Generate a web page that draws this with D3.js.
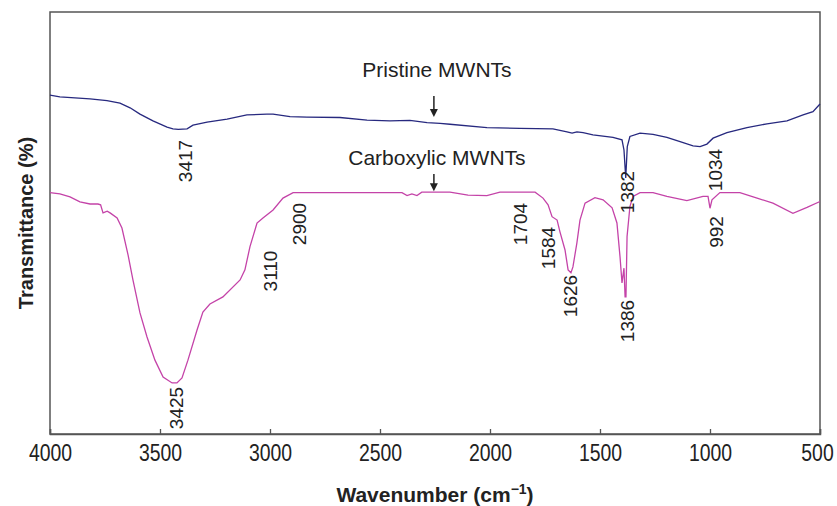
<!DOCTYPE html>
<html>
<head>
<meta charset="utf-8">
<script src="https://cdn.jsdelivr.net/npm/d3@7"></script>
<style>
  body { margin: 0; background: #fff; }
  svg { display: block; }
  text { font-family: "Liberation Sans", Arial, sans-serif; fill: #222; }
</style>
</head>
<body>
<svg id="chart" width="837" height="506"></svg>
<script>
// wavenumber (cm-1) and transmittance (arb. %)
const pristineWn = [4000, 3955, 3818, 3741, 3682, 3636, 3591, 3532, 3468, 3441, 3417, 3377, 3350, 3286, 3195, 3105, 3014, 2986, 2909, 2832, 2682, 2559, 2455, 2364, 2286, 2227, 2182, 2014, 1864, 1714, 1650, 1627, 1605, 1577, 1532, 1441, 1400, 1391, 1383, 1376, 1364, 1318, 1259, 1196, 1136, 1077, 1045, 1014, 986, 923, 832, 741, 650, 577, 532, 500];
const pristineT  = [80.3, 79.9, 79.4, 79.0, 78.4, 77.3, 75.8, 74.2, 72.7, 72.3, 72.2, 72.3, 73.2, 73.9, 74.6, 75.6, 75.8, 75.8, 75.2, 75.1, 75.0, 74.4, 74.2, 74.3, 73.8, 73.6, 73.4, 72.6, 72.4, 72.3, 71.6, 71.3, 71.6, 71.4, 70.9, 70.3, 69.7, 67.3, 60.7, 68.1, 70.5, 71.3, 71.0, 70.3, 69.3, 68.3, 68.1, 68.7, 70.1, 71.4, 72.6, 73.5, 74.2, 75.6, 76.4, 78.2];

const carboxWn = [4000, 3955, 3909, 3864, 3818, 3782, 3770, 3759, 3740, 3727, 3695, 3673, 3645, 3623, 3591, 3559, 3523, 3486, 3445, 3423, 3400, 3373, 3332, 3305, 3273, 3214, 3136, 3114, 3091, 3059, 3032, 2986, 2941, 2895, 2682, 2400, 2377, 2355, 2332, 2310, 2182, 2100, 2014, 1955, 1795, 1759, 1736, 1718, 1695, 1682, 1659, 1645, 1632, 1623, 1605, 1591, 1568, 1523, 1486, 1445, 1423, 1409, 1400, 1391, 1386, 1382, 1377, 1364, 1350, 1318, 1259, 1196, 1105, 1032, 1009, 1000, 991, 955, 864, 786, 714, 623, 559, 500];
const carboxT  = [57.2, 56.9, 56.2, 55.0, 54.5, 54.5, 54.3, 52.4, 52.8, 52.4, 51.2, 48.8, 42.4, 36.5, 28.7, 23.0, 17.5, 13.5, 12.1, 12.1, 13.3, 17.5, 24.6, 28.9, 30.8, 32.5, 36.5, 38.9, 44.4, 50.0, 51.2, 53.1, 55.9, 57.2, 57.2, 57.2, 56.5, 56.9, 56.5, 57.3, 57.3, 56.6, 56.5, 57.3, 57.3, 55.9, 54.3, 51.5, 50.7, 47.9, 43.6, 38.9, 38.2, 39.6, 45.3, 50.7, 54.7, 56.0, 55.5, 53.6, 50.0, 42.0, 35.8, 39.3, 32.5, 32.5, 46.8, 53.9, 56.3, 57.2, 57.2, 56.3, 55.3, 56.3, 56.3, 53.5, 55.5, 57.2, 57.2, 55.9, 54.7, 52.3, 53.7, 55.1];

const seriesNames = ["Pristine MWNTs", "Carboxylic MWNTs"];
const arrowWn = 2255;
const xTicks = [4000, 3500, 3000, 2500, 2000, 1500, 1000, 500];
const pristinePeaks = ["3417", "1382", "1034"];
const carboxPeaks = ["3425", "3110", "2900", "1704", "1584", "1626", "1386", "992"];

// layout (pixels)
const peakPos = {
  "3417": [185, 161], "1382": [627, 192], "1034": [715, 170],
  "3425": [176, 408], "3110": [270, 271], "2900": [299, 224], "1704": [520, 224],
  "1584": [548, 248], "1626": [570, 296], "1386": [627, 321], "992": [716, 232]
};
const labelBase = [77, 165];
const arrowTop = [96, 174];
const arrowGap = [6, 1];

const svg = d3.select("#chart");
const margin = {left: 50, right: 17, top: 12, bottom: 72};
const W = 837, H = 506;
const x = d3.scaleLinear().domain([4000, 500]).range([margin.left, W - margin.right]);
const y = d3.scaleLinear().domain([0, 100]).range([H - margin.bottom, margin.top]);

const colors = ["#27297f", "#c443a8"];
const narrow = '"Liberation Sans Narrow", "Arial Narrow", "Liberation Sans", sans-serif';

// frame
svg.append("rect")
  .attr("x", x(4000)).attr("y", y(100))
  .attr("width", x(500) - x(4000)).attr("height", y(0) - y(100))
  .attr("fill", "none").attr("stroke", "#555").attr("stroke-width", 1.5);

// x axis
const xAxis = d3.axisBottom(x).tickValues(xTicks).tickFormat(d3.format("d")).tickSize(-5).tickPadding(10);
const gx = svg.append("g").attr("transform", `translate(0,${y(0)})`).call(xAxis);
gx.select(".domain").attr("stroke", "#555").attr("stroke-width", 1.5);
gx.selectAll(".tick line").attr("stroke", "#555").attr("stroke-width", 1.3);
gx.selectAll(".tick text")
  .style("font-family", narrow)
  .style("font-size", "24px").attr("fill", "#222")
  .attr("textLength", d => String(d).length * 10.8)
  .attr("lengthAdjust", "spacingAndGlyphs")
  .attr("dx", d => d === 500 ? -3 : 0);

const xt = svg.append("text")
  .attr("x", (x(4000) + x(500)) / 2).attr("y", 502)
  .attr("text-anchor", "middle")
  .style("font-family", narrow)
  .style("font-weight", "bold").style("font-size", "21px");
xt.append("tspan").text("Wavenumber (cm");
xt.append("tspan").text("\u22121").attr("dy", -8).style("font-size", "14px");
xt.append("tspan").text(")").attr("dy", 8);

svg.append("text")
  .attr("transform", `translate(26,${(y(0) + y(100)) / 2}) rotate(-90)`)
  .attr("text-anchor", "middle").attr("dominant-baseline", "central")
  .style("font-weight", "bold").style("font-size", "20px")
  .text("Transmittance (%)");

// curves
const line = d3.line().x(d => x(d[0])).y(d => y(d[1]));
const series = [d3.zip(pristineWn, pristineT), d3.zip(carboxWn, carboxT)];
series.forEach((s, i) => {
  svg.append("path").datum(s)
    .attr("d", line)
    .attr("fill", "none").attr("stroke", colors[i]).attr("stroke-width", 1.3);
});

// series labels + arrows
const interp = (wn, t, w) => {
  for (let i = 0; i < wn.length - 1; i++) {
    if (w <= wn[i] && w >= wn[i + 1]) {
      const f = (wn[i] - w) / (wn[i] - wn[i + 1]);
      return t[i] + f * (t[i + 1] - t[i]);
    }
  }
  return t[0];
};
const curves = [[pristineWn, pristineT], [carboxWn, carboxT]];
seriesNames.forEach((name, i) => {
  const ax = x(arrowWn);
  svg.append("text")
    .attr("x", ax + 3).attr("y", labelBase[i])
    .attr("text-anchor", "middle").style("font-size", "21px")
    .text(name);
  const tipY = y(interp(curves[i][0], curves[i][1], arrowWn)) - arrowGap[i];
  svg.append("line")
    .attr("x1", ax).attr("x2", ax).attr("y1", arrowTop[i]).attr("y2", tipY - 6)
    .attr("stroke", "#222").attr("stroke-width", 1.5);
  svg.append("path")
    .attr("d", `M${ax - 4},${tipY - 8} L${ax + 4},${tipY - 8} L${ax},${tipY} Z`)
    .attr("fill", "#222");
});

// peak labels
pristinePeaks.concat(carboxPeaks).forEach(p => {
  const [px, py] = peakPos[p];
  svg.append("text")
    .attr("transform", `translate(${px},${py}) rotate(-90)`)
    .attr("text-anchor", "middle").attr("dominant-baseline", "central")
    .style("font-size", "19px")
    .text(p);
});
</script>
</body>
</html>
